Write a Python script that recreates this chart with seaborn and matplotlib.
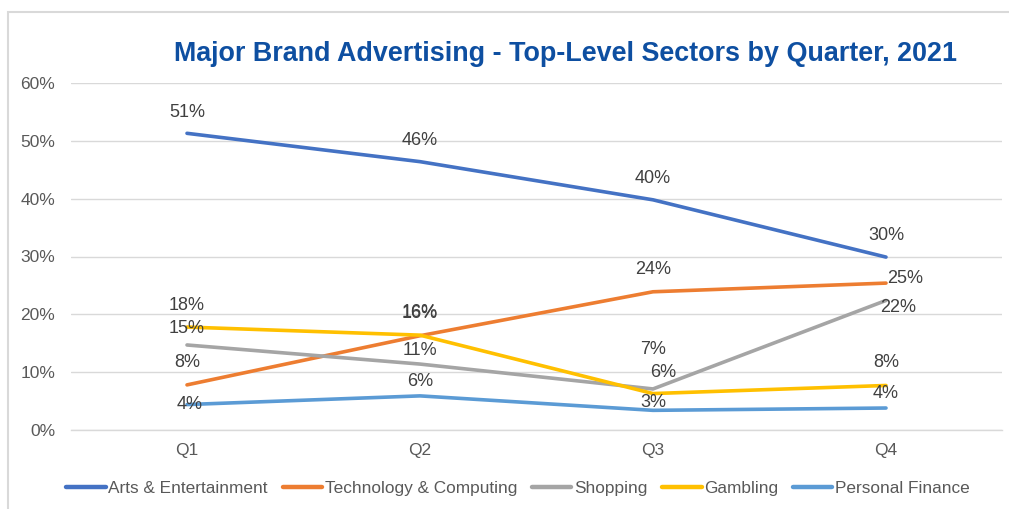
import matplotlib
matplotlib.use("Agg")
import matplotlib.pyplot as plt
from matplotlib.patches import Rectangle
from matplotlib.ticker import FuncFormatter, MultipleLocator
import pandas as pd
import seaborn as sns

# Quarterly share of major brand advertising by top-level sector (percent)
quarters = ["Q1", "Q2", "Q3", "Q4"]
arts_entertainment = [51.3, 46.4, 39.8, 29.9]
technology_computing = [7.8, 16.3, 23.9, 25.4]
shopping = [14.7, 11.4, 7.1, 22.4]
gambling = [17.8, 16.4, 6.3, 7.7]
personal_finance = [4.4, 5.9, 3.4, 3.8]

series_names = ["Arts & Entertainment", "Technology & Computing", "Shopping",
                "Gambling", "Personal Finance"]
series_values = [arts_entertainment, technology_computing, shopping,
                 gambling, personal_finance]
colors = ["#4472C4", "#ED7D31", "#A5A5A5", "#FFC000", "#5B9BD5"]

# label offsets (pixels) for each series, per quarter
label_offsets = {
    "Arts & Entertainment": [(0, 21), (0, 21), (0, 21), (0, 22)],
    "Technology & Computing": [(0, 22), (0, 23), (0, 22), (19, 5)],
    "Shopping": [(0, 16), (0, 14), (0, 39), (12, -7)],
    "Gambling": [(0, 22), (0, 22), (10, 21), (0, 23)],
    "Personal Finance": [(3, 0), (0, 14), (0, 8), (0, 15)],
}

df = pd.DataFrame(
    [(name, q, v) for name, vals in zip(series_names, series_values)
     for q, v in zip(quarters, vals)],
    columns=["sector", "quarter", "share"],
)

sns.set_theme(style="white")
plt.rcParams["font.family"] = ["Liberation Sans", "DejaVu Sans"]

W, H = 1009, 509
fig = plt.figure(figsize=(W / 100, H / 100), dpi=100)
ax = fig.add_axes([70.5 / W, (H - 430) / H, 932 / W, 347 / H])

sns.lineplot(data=df, x="quarter", y="share", hue="sector",
             hue_order=series_names, palette=colors, sort=False,
             linewidth=2.6, ax=ax, legend=True)

ax.set_xlim(-0.5, 3.5)
ax.set_ylim(0, 60)
ax.yaxis.set_major_locator(MultipleLocator(10))
ax.yaxis.set_major_formatter(FuncFormatter(lambda v, _: f"{v:.0f}%"))
ax.grid(axis="y", color="#D9D9D9", linewidth=1.0)
ax.set_axisbelow(True)
for side in ["top", "right", "left"]:
    ax.spines[side].set_visible(False)
ax.spines["bottom"].set_color("#D9D9D9")
ax.spines["bottom"].set_linewidth(1.0)
ax.tick_params(axis="both", length=0, labelsize=12.5, labelcolor="#595959")
ax.tick_params(axis="y", pad=11)
ax.tick_params(axis="x", pad=9)
ax.set_xlabel("")
ax.set_ylabel("")

# data labels
for name, vals in zip(series_names, series_values):
    for i, v in enumerate(vals):
        dx, dy = label_offsets[name][i]
        ax.annotate(f"{v:.0f}%", (i, v), xytext=(dx, dy),
                    textcoords="offset pixels", ha="center", va="center",
                    fontsize=13, color="#404040")

# legend along the bottom
handles, labels = ax.get_legend_handles_labels()
ax.get_legend().remove()
leg = fig.legend(handles, labels, loc="center", ncol=5,
                 bbox_to_anchor=(518 / W, 1 - 488 / H), frameon=False,
                 fontsize=12.4, handlelength=2.3, handletextpad=0.15,
                 columnspacing=0.85, labelcolor="#595959")
for line in leg.get_lines():
    line.set_linewidth(3.2)

fig.text(565 / W, 1 - 61 / H,
         "Major Brand Advertising - Top-Level Sectors by Quarter, 2021",
         ha="center", va="baseline", fontsize=19.4, fontweight="bold",
         color="#0E4FA1")

# chart-area frame
fig.patches.append(Rectangle((8 / W, -0.05), 1.1, 1.05 - 12 / H,
                             transform=fig.transFigure, fill=False,
                             edgecolor="#D9D9D9", linewidth=1.5))

fig.savefig("out.png", dpi=100)
